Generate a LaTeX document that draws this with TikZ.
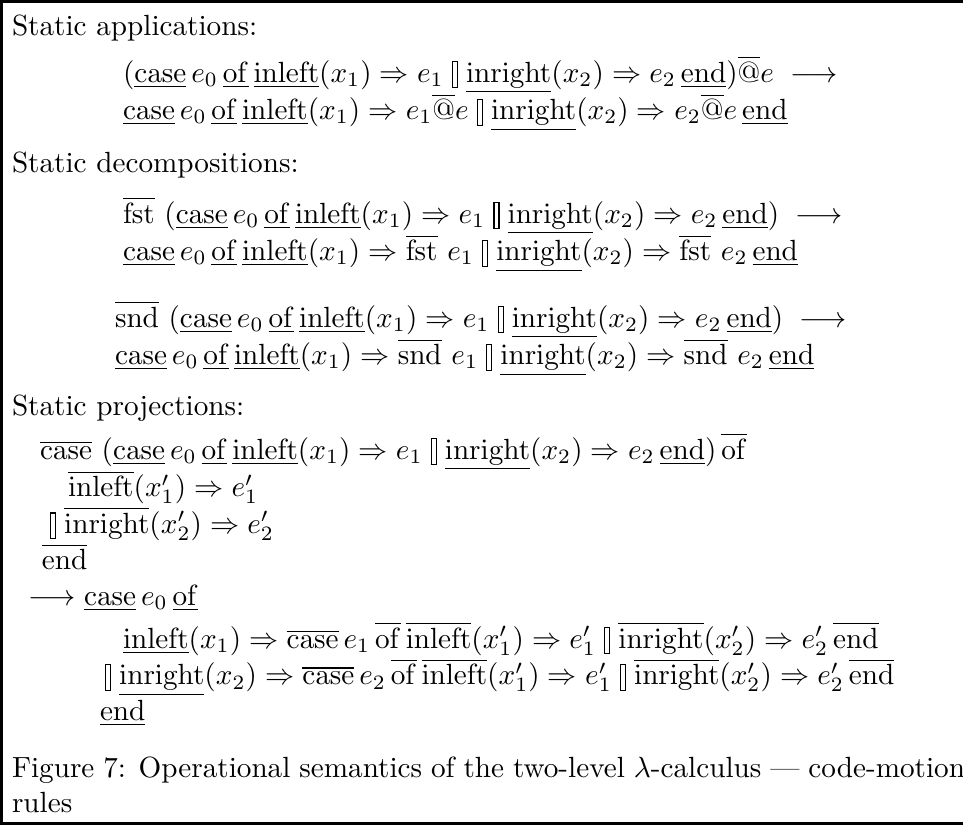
\documentclass[tikz,border=0pt]{standalone}
\newcommand\ukw[1]{\underline{\mathrm{#1}}}
\newcommand\okw[1]{\overline{\mathrm{#1}}}
\newcommand\altsep{\mathrel{\vcenter{\hbox{\setlength{\fboxsep}{0pt}\setlength{\fboxrule}{0.4pt}\fbox{\rule{0pt}{8.4pt}\hspace{1.3pt}}}}}}
\newcommand\dcase{\ukw{case}\,e_0\,\ukw{of}\,\ukw{inleft}(x_1)\Rightarrow e_1\altsep\ukw{inright}(x_2)\Rightarrow e_2\,\ukw{end}}
\tikzset{ln/.style={anchor=base west, inner sep=0pt, outer sep=0pt},
  frame/.style={line width=0.85pt, draw=black}}
\begin{document}
\begin{tikzpicture}[x=0.3425pt, y=-0.3425pt]
\useasboundingbox (0,0) rectangle (963,825);
\clip (0,0) rectangle (963,825);
\draw[frame] (1200,1.3) -- (1.3,1.3) -- (1.3,823.7) -- (1200,823.7);
% applications
\node[ln] (h1) at (12,35) {Static applications:};
\node[ln] (a1) at (123,82) {$(\dcase)\overline{@}e\;\longrightarrow$};
\node[ln] (a2) at (123,119.6) {$\ukw{case}\,e_0\,\ukw{of}\,\ukw{inleft}(x_1)\Rightarrow e_1\overline{@}e\altsep\ukw{inright}(x_2)\Rightarrow e_2\overline{@}e\,\ukw{end}$};
% decompositions
\node[ln] (h2) at (12,172) {Static decompositions:};
\node[ln] (f1) at (123,223) {$\okw{fst}\ (\dcase)\;\longrightarrow$};
\node[ln] (f2) at (123,260.6) {$\ukw{case}\,e_0\,\ukw{of}\,\ukw{inleft}(x_1)\Rightarrow\okw{fst}\ e_1\altsep\ukw{inright}(x_2)\Rightarrow\okw{fst}\ e_2\,\ukw{end}$};
\node[ln] (s1) at (115,327) {$\okw{snd}\ (\dcase)\;\longrightarrow$};
\node[ln] (s2) at (115,364.6) {$\ukw{case}\,e_0\,\ukw{of}\,\ukw{inleft}(x_1)\Rightarrow\okw{snd}\ e_1\altsep\ukw{inright}(x_2)\Rightarrow\okw{snd}\ e_2\,\ukw{end}$};
% projections
\node[ln] (h3) at (12,415) {Static projections:};
\node[ln] (p1) at (40,459) {$\okw{case}\ (\dcase)\,\okw{of}$};
\node[ln] (p2) at (68,496.6) {$\okw{inleft}(x'_1)\Rightarrow e'_1$};
\node[ln] (p3) at (50,533.2) {$\altsep\okw{inright}(x'_2)\Rightarrow e'_2$};
\node[ln] (p4) at (42,569.8) {$\okw{end}$};
\node[ln] (p5) at (29,605) {$\longrightarrow\ukw{case}\,e_0\,\ukw{of}$};
\node[ln] (p6) at (123,648) {$\ukw{inleft}(x_1)\Rightarrow\okw{case}\,e_1\,\okw{of}\,\okw{inleft}(x'_1)\Rightarrow e'_1\altsep\okw{inright}(x'_2)\Rightarrow e'_2\,\okw{end}$};
\node[ln] (p7) at (105,684.6) {$\altsep\ukw{inright}(x_2)\Rightarrow\okw{case}\,e_2\,\okw{of}\,\okw{inleft}(x'_1)\Rightarrow e'_1\altsep\okw{inright}(x'_2)\Rightarrow e'_2\,\okw{end}$};
\node[ln] (p8) at (100,720.6) {$\ukw{end}$};
% caption
\node[ln] (c1) at (12,777) {\makebox[326.4pt][s]{Figure 7: Operational semantics of the two-level $\lambda$-calculus --- code-motion}};
\node[ln] (c2) at (12,812) {rules};
\end{tikzpicture}
\end{document}
